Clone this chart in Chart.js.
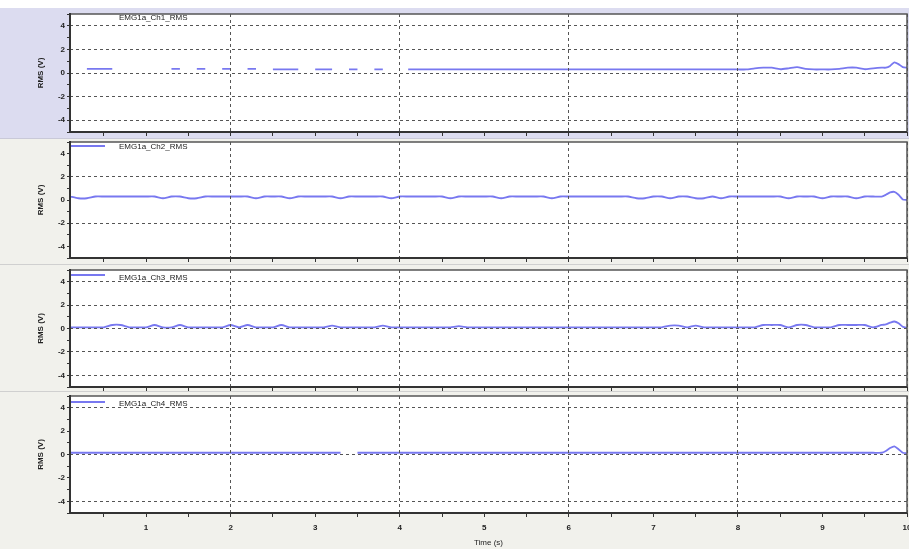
<!DOCTYPE html>
<html>
<head>
<meta charset="utf-8">
<script src="https://cdn.jsdelivr.net/npm/chart.js@4.4.0/dist/chart.umd.min.js"></script>
<style>
  body { margin: 0; width: 909px; height: 549px; overflow: hidden; position: relative; background: #fff;
         font-family: "Liberation Sans", Arial, sans-serif; }
  .panel { position: absolute; left: 0; width: 909px; }
  .panel canvas { display: block; }
  .legline { position: absolute; left: 71px; width: 34px; height: 2px; background: #7878f0; z-index: 2; }
  .legtext { position: absolute; left: 119px; font-size: 8px; line-height: 10px; color: #222; z-index: 2; white-space: nowrap; }
</style>
</head>
<body>
<div class="panel" style="top:8px;height:130px;background:#dcdcf0"><canvas id="c1" width="909" height="130"></canvas></div>
<div class="panel" style="top:138px;height:126px;background:#f1f1ec;border-top:1px solid #c9c9d8;box-sizing:border-box"><canvas id="c2" width="909" height="125"></canvas></div>
<div class="panel" style="top:264px;height:127px;background:#f1f1ec;border-top:1px solid #d0d0d0;box-sizing:border-box"><canvas id="c3" width="909" height="126"></canvas></div>
<div class="panel" style="top:391px;height:158px;background:#f1f1ec;border-top:1px solid #d0d0d0;box-sizing:border-box"><canvas id="c4" width="909" height="157"></canvas></div>

<div class="legtext" style="top:13px">EMG1a_Ch1_RMS</div>
<div class="legline" style="top:145px"></div><div class="legtext" style="top:142px">EMG1a_Ch2_RMS</div>
<div class="legline" style="top:274px"></div><div class="legtext" style="top:273px">EMG1a_Ch3_RMS</div>
<div class="legline" style="top:401px"></div><div class="legtext" style="top:399px">EMG1a_Ch4_RMS</div>

<script>
// time axis (s)
var times = [
  0.1,0.2,0.3,0.4,0.5,0.6,0.7,0.8,0.9,1.0,
  1.1,1.2,1.3,1.4,1.5,1.6,1.7,1.8,1.9,2.0,
  2.1,2.2,2.3,2.4,2.5,2.6,2.7,2.8,2.9,3.0,
  3.1,3.2,3.3,3.4,3.5,3.6,3.7,3.8,3.9,4.0,
  4.1,4.2,4.3,4.4,4.5,4.6,4.7,4.8,4.9,5.0,
  5.1,5.2,5.3,5.4,5.5,5.6,5.7,5.8,5.9,6.0,
  6.1,6.2,6.3,6.4,6.5,6.6,6.7,6.8,6.9,7.0,
  7.1,7.2,7.3,7.4,7.5,7.6,7.7,7.8,7.9,8.0,
  8.1,8.2,8.3,8.4,8.5,8.6,8.7,8.8,8.9,9.0,
  9.1,9.2,9.3,9.4,9.5,9.6,9.7,
  9.75,9.8,9.85,9.9,9.95,10
];

// RMS values (V), null = no sample drawn
var ch1 = [
  null,null,0.35,0.35,0.35,0.35,null,null,null,null,
  null,null,0.35,0.35,null,0.35,0.35,null,0.35,0.35,
  null,0.35,0.35,null,0.3,0.3,0.3,0.3,null,0.3,
  0.3,0.3,null,0.3,0.3,null,0.3,0.3,null,null,
  0.3,0.3,0.3,0.3,0.3,0.3,0.3,0.3,0.3,0.3,
  0.3,0.3,0.3,0.3,0.3,0.3,0.3,0.3,0.3,0.3,
  0.3,0.3,0.3,0.3,0.3,0.3,0.3,0.3,0.3,0.3,
  0.3,0.3,0.3,0.3,0.3,0.3,0.3,0.3,0.3,0.3,
  0.3,0.4,0.45,0.45,0.32,0.4,0.5,0.35,0.3,0.3,
  0.3,0.35,0.45,0.45,0.32,0.4,0.45,
  0.45,0.6,0.9,0.75,0.5,0.45
];
var ch2 = [
  0.3,0.15,0.15,0.3,0.3,0.3,0.3,0.3,0.3,0.3,
  0.3,0.15,0.3,0.3,0.15,0.15,0.3,0.3,0.3,0.3,
  0.3,0.3,0.15,0.3,0.3,0.3,0.15,0.3,0.3,0.3,
  0.3,0.3,0.15,0.3,0.3,0.3,0.3,0.3,0.15,0.3,
  0.3,0.3,0.3,0.3,0.3,0.15,0.3,0.3,0.3,0.3,
  0.3,0.15,0.3,0.3,0.3,0.3,0.3,0.15,0.3,0.3,
  0.3,0.3,0.3,0.3,0.3,0.3,0.3,0.15,0.15,0.3,
  0.3,0.15,0.3,0.3,0.15,0.15,0.3,0.15,0.3,0.3,
  0.3,0.3,0.3,0.3,0.3,0.15,0.3,0.3,0.3,0.15,
  0.3,0.3,0.3,0.15,0.3,0.3,0.3,
  0.45,0.65,0.7,0.45,0.05,0.0
];
var ch3 = [
  0.1,0.1,0.1,0.1,0.1,0.3,0.3,0.1,0.1,0.1,
  0.3,0.1,0.1,0.3,0.1,0.1,0.1,0.1,0.1,0.3,
  0.1,0.3,0.1,0.1,0.1,0.3,0.1,0.1,0.1,0.1,
  0.1,0.25,0.1,0.1,0.1,0.1,0.1,0.25,0.1,0.1,
  0.1,0.1,0.1,0.1,0.1,0.1,0.2,0.1,0.1,0.1,
  0.1,0.1,0.1,0.1,0.1,0.1,0.1,0.1,0.1,0.1,
  0.1,0.1,0.1,0.1,0.1,0.1,0.1,0.1,0.1,0.1,
  0.1,0.25,0.25,0.1,0.25,0.1,0.1,0.1,0.1,0.1,
  0.1,0.1,0.3,0.3,0.3,0.1,0.3,0.3,0.1,0.1,
  0.1,0.3,0.3,0.3,0.3,0.1,0.3,
  0.35,0.5,0.6,0.45,0.15,0.05
];
var ch4 = [
  0.15,0.15,0.15,0.15,0.15,0.15,0.15,0.15,0.15,0.15,
  0.15,0.15,0.15,0.15,0.15,0.15,0.15,0.15,0.15,0.15,
  0.15,0.15,0.15,0.15,0.15,0.15,0.15,0.15,0.15,0.15,
  0.15,0.15,0.15,null,0.15,0.15,0.15,0.15,0.15,0.15,
  0.15,0.15,0.15,0.15,0.15,0.15,0.15,0.15,0.15,0.15,
  0.15,0.15,0.15,0.15,0.15,0.15,0.15,0.15,0.15,0.15,
  0.15,0.15,0.15,0.15,0.15,0.15,0.15,0.15,0.15,0.15,
  0.15,0.15,0.15,0.15,0.15,0.15,0.15,0.15,0.15,0.15,
  0.15,0.15,0.15,0.15,0.15,0.15,0.15,0.15,0.15,0.15,
  0.15,0.15,0.15,0.15,0.15,0.15,0.15,
  0.3,0.55,0.7,0.45,0.15,0.1
];

var xTicks = [0.5,1,1.5,2,2.5,3,3.5,4,4.5,5,5.5,6,6.5,7,7.5,8,8.5,9,9.5,10];
var xGridAt = [2,4,6,8,10];

// white plot area, then a frame: heavy left/bottom axes, thin top/right
var frame = {
  id: 'frame',
  beforeDraw: function (chart) {
    var a = chart.chartArea, c = chart.ctx;
    c.save();
    c.fillStyle = '#fff';
    c.fillRect(a.left, a.top, a.right - a.left, a.bottom - a.top);
    c.restore();
  },
  afterDraw: function (chart) {
    var a = chart.chartArea, c = chart.ctx;
    c.save();
    c.strokeStyle = '#555';
    c.lineWidth = 1.5;
    c.beginPath();
    c.moveTo(a.left, a.top); c.lineTo(a.right, a.top); c.lineTo(a.right, a.bottom);
    c.stroke();
    c.strokeStyle = '#333';
    c.lineWidth = 2;
    c.beginPath();
    c.moveTo(a.left, a.top - 1); c.lineTo(a.left, a.bottom); c.lineTo(a.right, a.bottom);
    c.stroke();
    c.restore();
  }
};

function makePanel(id, values, yGridAt, padTop, xHeight, last) {
  return new Chart(document.getElementById(id), {
    type: 'line',
    data: {
      labels: times,
      datasets: [{
        data: values.map(function (v, i) { return {x: times[i], y: v}; }),
        borderColor: '#7878f0',
        borderWidth: 1.8,
        pointRadius: 0,
        fill: false,
        tension: 0.2
      }]
    },
    options: {
      responsive: false,
      animation: false,
      devicePixelRatio: 1,
      layout: { padding: { top: padTop, right: 2, left: 0, bottom: 0 } },
      plugins: { legend: { display: false }, tooltip: { enabled: false } },
      scales: {
        x: {
          type: 'linear', min: 0.1, max: 10,
          afterBuildTicks: function (s) { s.ticks = xTicks.map(function (v) { return {value: v}; }); },
          afterFit: function (s) { s.height = xHeight; s.paddingLeft = 0; s.paddingRight = 0; },
          grid: {
            color: function (c) { return (c.tick && xGridAt.indexOf(c.tick.value) >= 0) ? '#555' : 'rgba(0,0,0,0)'; },
            tickColor: '#333', tickLength: 4, z: 1
          },
          border: { display: false, dash: [3, 3] },
          ticks: {
            display: last, autoSkip: false, maxRotation: 0, padding: 6,
            color: '#222', font: { size: 8, weight: 'bold' },
            callback: function (v) { return Number.isInteger(v) ? String(v) : ''; }
          },
          title: { display: last, text: 'Time (s)', color: '#222', font: { size: 8 }, padding: { top: 0, bottom: 1 } }
        },
        y: {
          min: -5, max: 5,
          afterFit: function (s) { s.width = 70; s.paddingTop = 0; s.paddingBottom = 0; },
          grid: {
            color: function (c) { return (c.tick && yGridAt.indexOf(c.tick.value) >= 0) ? '#555' : 'rgba(0,0,0,0)'; },
            tickColor: '#333', tickLength: 3, z: 1
          },
          border: { display: false, dash: [3, 3] },
          ticks: {
            stepSize: 1, autoSkip: false, padding: 2,
            color: '#222', font: { size: 8, weight: 'bold' },
            callback: function (v) { return (v % 2 === 0 && Math.abs(v) < 5) ? String(v) : ''; }
          },
          title: { display: true, text: 'RMS (V)', color: '#222', font: { size: 8, weight: 'bold' }, padding: { top: 36, bottom: 0 } }
        }
      }
    },
    plugins: [frame]
  });
}

makePanel('c1', ch1, [-4, -2, 0, 2, 4], 6, 6, false);
makePanel('c2', ch2, [-2, 2], 3, 6, false);
makePanel('c3', ch3, [-4, -2, 0, 2, 4], 5, 4, false);
makePanel('c4', ch4, [-4, 0, 4], 4, 36, true);
</script>
</body>
</html>
